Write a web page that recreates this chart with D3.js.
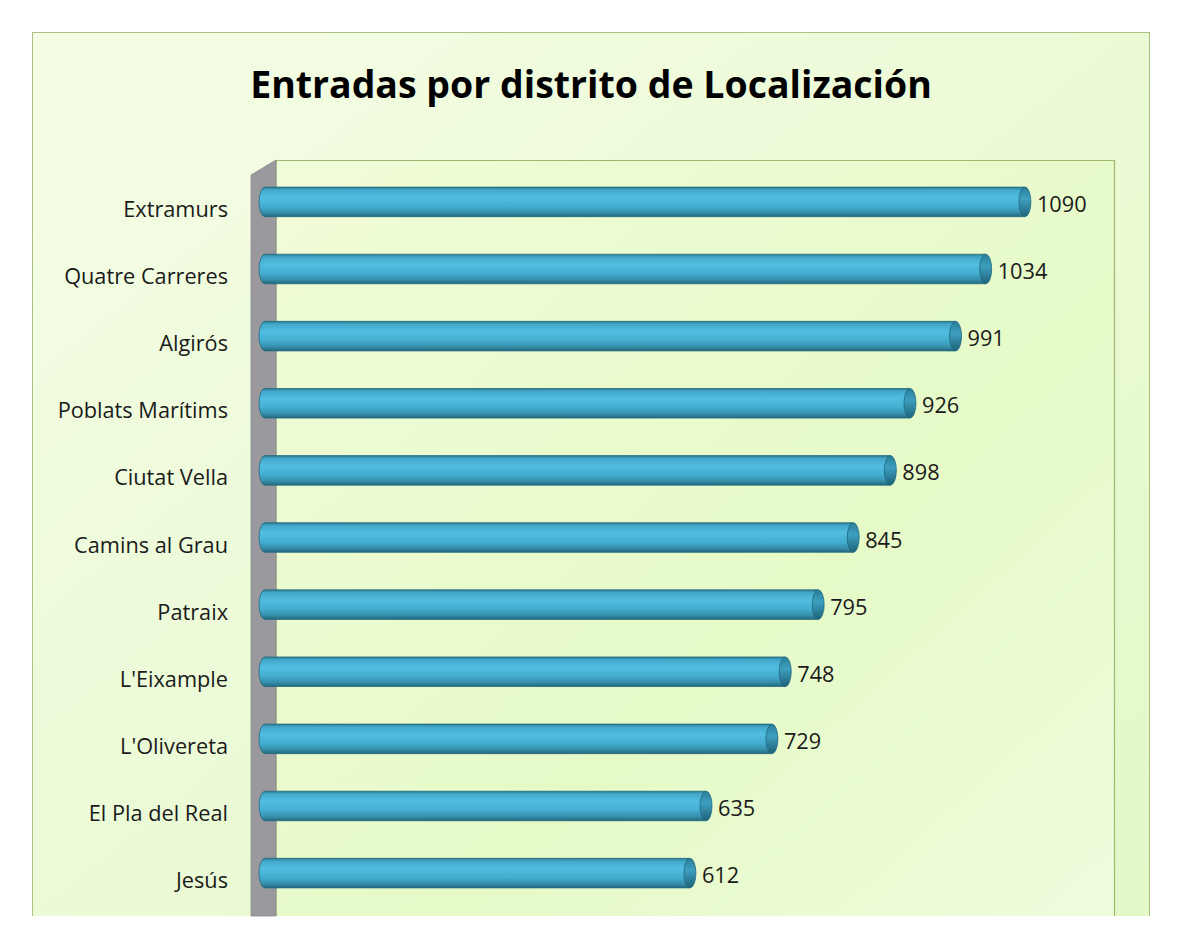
<!DOCTYPE html>
<html><head><meta charset="utf-8">
<script src="https://cdn.jsdelivr.net/npm/d3@7"></script>
<style>body{margin:0;background:#fff}svg{display:block}</style>
</head><body>
<svg id="c" width="1200" height="934"></svg>
<script>
const categories = ["Extramurs","Quatre Carreres","Algirós","Poblats Marítims","Ciutat Vella","Camins al Grau","Patraix","L'Eixample","L'Olivereta","El Pla del Real","Jesús"];
const values = [1090,1034,991,926,898,845,795,748,729,635,612];
const titleText = "Entradas por distrito de Localización";

const svg = d3.select("#c");
const defs = svg.append("defs");

const bg = defs.append("linearGradient").attr("id","bg").attr("x1",0).attr("y1",0).attr("x2",1).attr("y2",1);
bg.append("stop").attr("offset","0").attr("stop-color","#f5fde6");
bg.append("stop").attr("offset","1").attr("stop-color","#e2f8c6");
const wall = defs.append("linearGradient").attr("id","wall").attr("x1",0).attr("y1",0).attr("x2",1).attr("y2",1);
wall.append("stop").attr("offset","0").attr("stop-color","#f0fcd8");
wall.append("stop").attr("offset","0.6").attr("stop-color","#e6fac8");
wall.append("stop").attr("offset","1").attr("stop-color","#eefcdc");
const bar = defs.append("linearGradient").attr("id","bar").attr("x1",0).attr("y1",0).attr("x2",0).attr("y2",1);
[["0","#2f7d90"],["0.1","#43a9cc"],["0.35","#52bde0"],["0.65","#44add0"],["0.85","#3791ae"],["1","#24687c"]].forEach(s=>bar.append("stop").attr("offset",s[0]).attr("stop-color",s[1]));
const cap = defs.append("linearGradient").attr("id","cap").attr("x1",0).attr("y1",0).attr("x2",0).attr("y2",1);
[["0","#2a7e98"],["0.4","#3d9fbf"],["1","#1f6279"]].forEach(s=>cap.append("stop").attr("offset",s[0]).attr("stop-color",s[1]));

// outer chart area (cut at bottom)
svg.append("rect").attr("x",32.5).attr("y",32.5).attr("width",1117).attr("height",900).attr("fill","url(#bg)").attr("stroke","#a9c27f");
svg.append("rect").attr("x",0).attr("y",916).attr("width",1200).attr("height",18).attr("fill","#fff");

const plotTop = 160, plotBottom = 916, wallL = 276, wallR = 1114;
const x = d3.scaleLinear().domain([0,1200]).range([267,1108]);
const y = d3.scaleBand().domain(categories).range([169, 906]).paddingInner(0.56).paddingOuter(0.27);

// back wall
svg.append("rect").attr("x",wallL).attr("y",plotTop).attr("width",wallR-wallL).attr("height",plotBottom-plotTop).attr("fill","url(#wall)");
svg.append("path").attr("d",`M${wallL},${plotBottom}V${plotTop+0.5}H${wallR+0.5}V${plotBottom}`).attr("fill","none").attr("stroke","#9fb86c").attr("stroke-width",1.2);
// side wall
svg.append("path").attr("d",`M251,${plotBottom}V175L${wallL},${plotTop}V${plotBottom}Z`).attr("fill","#9a9a9e").attr("stroke","#8c8c90").attr("stroke-width",0.8);

// title
const title = svg.append("text").attr("x",591).attr("y",98).attr("text-anchor","middle")
  .attr("font-family","Open Sans, sans-serif").attr("font-weight","bold").attr("font-size",36).attr("fill","#000").text(titleText);
{ const w = title.node().getComputedTextLength(); title.attr("font-size",36*682/w); }

// bars
const rx = 6;
const g = svg.append("g");
const bh = y.bandwidth();
const bars = g.selectAll("g.b").data(values).join("g").attr("class","b");
bars.append("path").attr("d",(d,i)=>{
  const y0=y(categories[i]), y1=y0+bh, xl=x(0)-2, xr=x(d)-rx;
  return `M${xr},${y0}H${xl}A${rx},${bh/2} 0 0 0 ${xl},${y1}H${xr}Z`;
}).attr("fill","url(#bar)").attr("stroke","#1f6a80").attr("stroke-width",0.8);
bars.append("ellipse").attr("cx",d=>x(d)-rx).attr("cy",(d,i)=>y(categories[i])+bh/2).attr("rx",rx).attr("ry",bh/2)
  .attr("fill","url(#cap)").attr("stroke","#1f6a80").attr("stroke-width",0.8);

// value labels
const vl = g.selectAll("text.v").data(values).join("text").attr("class","v")
  .attr("x",d=>x(d)+6).attr("y",(d,i)=>y(categories[i])+bh/2+10)
  .attr("font-family","Open Sans, sans-serif").attr("font-size",19).attr("fill","#1a1a1a").text(d=>d);

// category labels
const cl = g.selectAll("text.c").data(categories).join("text").attr("class","c")
  .attr("x",228).attr("y",d=>y(d)+bh/2+15).attr("text-anchor","end")
  .attr("font-family","Open Sans, sans-serif").attr("font-size",19).attr("fill","#1a1a1a").text(d=>d);
{ const w = cl.filter((d,i)=>i===1).node().getComputedTextLength(); const fs = 19*164/w; cl.attr("font-size",fs); vl.attr("font-size",fs); }
</script>
</body></html>
